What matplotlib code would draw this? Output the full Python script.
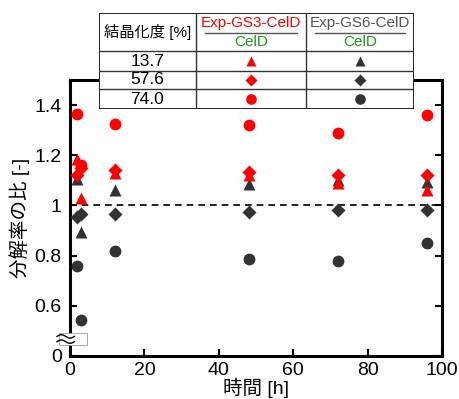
import numpy as np
import matplotlib.pyplot as plt
from matplotlib.patches import Rectangle

plt.rcParams['font.family'] = ['Liberation Sans', 'Noto Sans CJK JP', 'DejaVu Sans']

# time [h] and ratio of degradation rate for each crystallinity
time_h = [2, 3, 12, 48, 72, 96]
crystallinity = ['13.7', '57.6', '74.0']
markers = ['^', 'D', 'o']

gs3_137 = [1.185, 1.03, 1.13, 1.12, 1.09, 1.06]
gs3_576 = [1.12, 1.15, 1.14, 1.135, 1.12, 1.12]
gs3_740 = [1.365, 1.16, 1.325, 1.32, 1.29, 1.36]

gs6_137 = [1.105, 0.895, 1.06, 1.085, 1.10, 1.095]
gs6_576 = [0.955, 0.965, 0.965, 0.975, 0.98, 0.98]
gs6_740 = [0.76, 0.545, 0.82, 0.785, 0.78, 0.85]

red = '#ff0000'
dark = '#333333'
green = '#1a9a1a'

fig = plt.figure(figsize=(4.60, 3.99), dpi=100)
ax = fig.add_axes([70/460, 1-356/399, 372/460, 276/399])

ms = {'^': 8.5, 'D': 7, 'o': 8.5}
for ys, m in zip([gs6_137, gs6_576, gs6_740], markers):
    ax.plot(time_h, ys, m, color=dark, ms=ms[m], mec='none', clip_on=False, zorder=3)
for ys, m in zip([gs3_137, gs3_576, gs3_740], markers):
    ax.plot(time_h, ys, m, color=red, ms=ms[m], mec='none', clip_on=False, zorder=3)

ax.axhline(1.0, color='black', ls=(0, (4, 3)), lw=1.2, zorder=2)

ax.set_xlim(0, 100)
ax.set_ylim(0.4, 1.5)
ax.set_xticks([0, 20, 40, 60, 80, 100])
ax.set_yticks([0.4, 0.6, 0.8, 1.0, 1.2, 1.4])
ax.set_yticklabels(['0', '0.6', '0.8', '1', '1.2', '1.4'])
ax.tick_params(direction='in', length=5, width=1.5, labelsize=14, right=True, top=True)
ax.tick_params(axis='y', pad=6)
ax.tick_params(axis='x', pad=4)
for s in ax.spines.values():
    s.set_linewidth(2.2)
ax.set_xlabel('時間 [h]', fontsize=14, labelpad=-1)
ax.set_ylabel('分解率の比 [-]', fontsize=14, labelpad=3)

# axis break mark
ax.add_patch(Rectangle((-0.030, 0.040), 0.075, 0.042, transform=ax.transAxes,
                       facecolor='white', edgecolor='#999999', lw=0.6, clip_on=False, zorder=5))
wx = np.linspace(-0.035, 0.012, 40)
for y0 in [0.052, 0.071]:
    ax.plot(wx, y0 + 0.006*np.sin((wx + 0.035)/0.047*2*np.pi), color='black', lw=1,
            transform=ax.transAxes, clip_on=False, zorder=6)

# legend table
tab = fig.add_axes([99/460, 1-109/399, 315/460, 96/399])
tab.set_xlim(0, 315)
tab.set_ylim(96, 0)
tab.axis('off')
tab.add_patch(Rectangle((0, 0), 315, 96, facecolor='white', edgecolor='black', lw=1.2))
col_x = [0, 97, 207, 315]
row_y = [0, 38, 58, 76, 96]
for x in col_x[1:-1]:
    tab.plot([x, x], [0, 96], color='#333333', lw=1)
for y in row_y[1:-1]:
    tab.plot([0, 315], [y, y], color='#333333', lw=1)
tab.text(48.5, 19, '結晶化度 [%]', ha='center', va='center', fontsize=11)
tab.text(152, 10, 'Exp-GS3-CelD', ha='center', va='center', fontsize=11, color=red)
tab.plot([106, 198], [19.5, 19.5], color='#555555', lw=1)
tab.text(152, 29, 'CelD', ha='center', va='center', fontsize=11, color=green)
tab.text(261, 10, 'Exp-GS6-CelD', ha='center', va='center', fontsize=11, color='#555555')
tab.plot([216, 306], [19.5, 19.5], color='#555555', lw=1)
tab.text(261, 29, 'CelD', ha='center', va='center', fontsize=11, color=green)
for i, (c, m) in enumerate(zip(crystallinity, markers)):
    yc = (row_y[i+1] + row_y[i+2]) / 2
    tab.text(48.5, yc, c, ha='center', va='center', fontsize=12.5)
    tab.plot(152, yc, m, color=red, ms=ms[m]*0.9, mec='none')
    tab.plot(261, yc, m, color=dark, ms=ms[m]*0.9, mec='none')

fig.savefig('out.png', dpi=100)
